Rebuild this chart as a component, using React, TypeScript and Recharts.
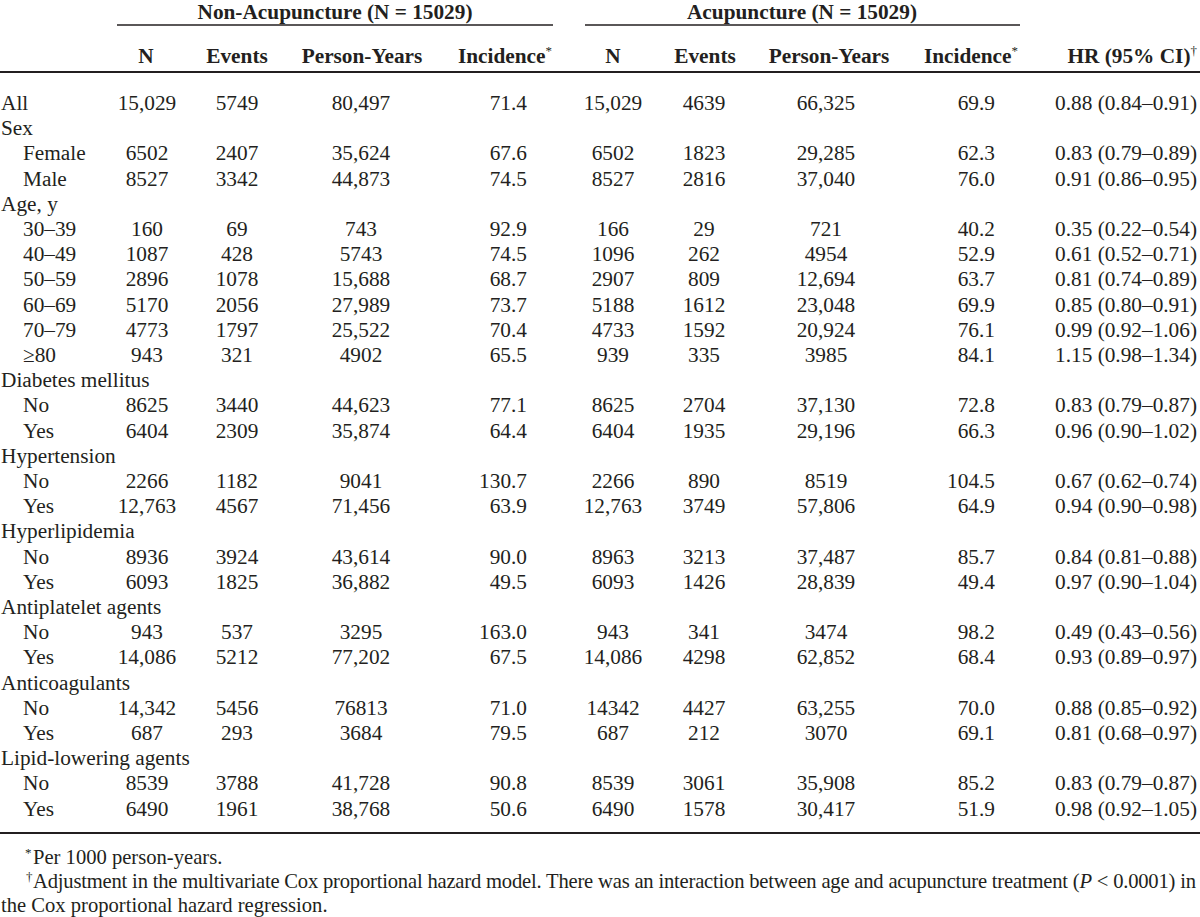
import React from 'react';
import { ScatterChart, Scatter, XAxis, YAxis, ReferenceLine } from 'recharts';

// row labels, 1 = indented sub-row
const rowLabels = [
  'All', 'Sex', 'Female', 'Male', 'Age, y', '30–39', '40–49', '50–59', '60–69', '70–79', '≥80',
  'Diabetes mellitus', 'No', 'Yes', 'Hypertension', 'No', 'Yes', 'Hyperlipidemia', 'No', 'Yes',
  'Antiplatelet agents', 'No', 'Yes', 'Anticoagulants', 'No', 'Yes', 'Lipid-lowering agents', 'No', 'Yes',
];
const rowIndent = [0, 0, 1, 1, 0, 1, 1, 1, 1, 1, 1, 0, 1, 1, 0, 1, 1, 0, 1, 1, 0, 1, 1, 0, 1, 1, 0, 1, 1];

const nonN = ['15,029', '', '6502', '8527', '', '160', '1087', '2896', '5170', '4773', '943', '', '8625', '6404', '', '2266', '12,763', '', '8936', '6093', '', '943', '14,086', '', '14,342', '687', '', '8539', '6490'];
const nonEvents = ['5749', '', '2407', '3342', '', '69', '428', '1078', '2056', '1797', '321', '', '3440', '2309', '', '1182', '4567', '', '3924', '1825', '', '537', '5212', '', '5456', '293', '', '3788', '1961'];
const nonPersonYears = ['80,497', '', '35,624', '44,873', '', '743', '5743', '15,688', '27,989', '25,522', '4902', '', '44,623', '35,874', '', '9041', '71,456', '', '43,614', '36,882', '', '3295', '77,202', '', '76813', '3684', '', '41,728', '38,768'];
const nonIncidence = ['71.4', '', '67.6', '74.5', '', '92.9', '74.5', '68.7', '73.7', '70.4', '65.5', '', '77.1', '64.4', '', '130.7', '63.9', '', '90.0', '49.5', '', '163.0', '67.5', '', '71.0', '79.5', '', '90.8', '50.6'];

const acuN = ['15,029', '', '6502', '8527', '', '166', '1096', '2907', '5188', '4733', '939', '', '8625', '6404', '', '2266', '12,763', '', '8963', '6093', '', '943', '14,086', '', '14342', '687', '', '8539', '6490'];
const acuEvents = ['4639', '', '1823', '2816', '', '29', '262', '809', '1612', '1592', '335', '', '2704', '1935', '', '890', '3749', '', '3213', '1426', '', '341', '4298', '', '4427', '212', '', '3061', '1578'];
const acuPersonYears = ['66,325', '', '29,285', '37,040', '', '721', '4954', '12,694', '23,048', '20,924', '3985', '', '37,130', '29,196', '', '8519', '57,806', '', '37,487', '28,839', '', '3474', '62,852', '', '63,255', '3070', '', '35,908', '30,417'];
const acuIncidence = ['69.9', '', '62.3', '76.0', '', '40.2', '52.9', '63.7', '69.9', '76.1', '84.1', '', '72.8', '66.3', '', '104.5', '64.9', '', '85.7', '49.4', '', '98.2', '68.4', '', '70.0', '69.1', '', '85.2', '51.9'];

const hazardRatio = ['0.88 (0.84–0.91)', '', '0.83 (0.79–0.89)', '0.91 (0.86–0.95)', '', '0.35 (0.22–0.54)', '0.61 (0.52–0.71)', '0.81 (0.74–0.89)', '0.85 (0.80–0.91)', '0.99 (0.92–1.06)', '1.15 (0.98–1.34)', '', '0.83 (0.79–0.87)', '0.96 (0.90–1.02)', '', '0.67 (0.62–0.74)', '0.94 (0.90–0.98)', '', '0.84 (0.81–0.88)', '0.97 (0.90–1.04)', '', '0.49 (0.43–0.56)', '0.93 (0.89–0.97)', '', '0.88 (0.85–0.92)', '0.81 (0.68–0.97)', '', '0.83 (0.79–0.87)', '0.98 (0.92–1.05)'];

const groupTitles = ['Non-Acupuncture (N = 15029)', 'Acupuncture (N = 15029)'];
const columnTitles = ['N', 'Events', 'Person-Years', 'Incidence'];
const hrTitle = 'HR (95% CI)';

const footnoteMarks = ['*', '†'];
const footnoteLines = [
  'Per 1000 person-years.',
  'Adjustment in the multivariate Cox proportional hazard model. There was an interaction between age and acupuncture treatment (|P| < 0.0001) in',
  'the Cox proportional hazard regression.',
];

// layout
const W = 1200;
const H = 917;
const FONT = '"Liberation Serif", "Times New Roman", serif';
const INK = '#231f20';
const FS = 21.3;
const ROW0 = 110;
const STEP = 25.2;

type Anchor = 'start' | 'middle' | 'end';
type Cell = {
  x: number; y: number; text: string; anchor: Anchor;
  bold?: boolean; sup?: string; size?: number; fit?: number;
};

const valueCols: { values: string[]; x: number; anchor: Anchor }[] = [
  { values: nonN, x: 147, anchor: 'middle' },
  { values: nonEvents, x: 237, anchor: 'middle' },
  { values: nonPersonYears, x: 361, anchor: 'middle' },
  { values: nonIncidence, x: 527, anchor: 'end' },
  { values: acuN, x: 613, anchor: 'middle' },
  { values: acuEvents, x: 704, anchor: 'middle' },
  { values: acuPersonYears, x: 826, anchor: 'middle' },
  { values: acuIncidence, x: 995, anchor: 'end' },
  { values: hazardRatio, x: 1197, anchor: 'end' },
];

const headerX = [
  [146, 237, 362, 552],
  [613, 705, 829, 1018],
];

const bodyCells: Cell[] = [
  ...rowLabels.map((t, i) => ({ x: rowIndent[i] ? 23 : 1, y: ROW0 + i * STEP, text: t, anchor: 'start' as Anchor })),
  ...valueCols.flatMap((c) =>
    c.values
      .map((v, i) => ({ x: c.x, y: ROW0 + i * STEP, text: v, anchor: c.anchor }))
      .filter((d) => d.text !== '')
  ),
];

const headerCells: Cell[] = [
  { x: 335, y: 19, text: groupTitles[0], anchor: 'middle', bold: true },
  { x: 802, y: 19, text: groupTitles[1], anchor: 'middle', bold: true },
  ...headerX.flatMap((xs) =>
    columnTitles.map((t, j) => ({
      x: xs[j],
      y: 63,
      text: t,
      anchor: (j === 3 ? 'end' : 'middle') as Anchor,
      bold: true,
      sup: j === 3 ? '*' : undefined,
    }))
  ),
  { x: 1197, y: 63, text: hrTitle, anchor: 'end', bold: true, sup: '†' },
];

const noteCells: Cell[] = [
  { x: 25, y: 857, text: footnoteMarks[0], anchor: 'start', size: 13 },
  { x: 33, y: 864, text: footnoteLines[0], anchor: 'start', size: 20.6 },
  { x: 26, y: 881, text: footnoteMarks[1], anchor: 'start', size: 13 },
  { x: 33, y: 888, text: footnoteLines[1], anchor: 'start', size: 20.6, fit: 1163 },
  { x: 1, y: 912, text: footnoteLines[2], anchor: 'start', size: 20.6 },
];

const TextShape = (props: any) => {
  const { cx, cy, payload } = props;
  const c = payload as Cell;
  // segments wrapped in |..| are italic
  const parts = c.text.split('|');
  return (
    <text
      x={cx}
      y={cy}
      textAnchor={c.anchor}
      fontFamily={FONT}
      fontSize={c.size ?? FS}
      fontWeight={c.bold ? 700 : 400}
      fill={INK}
      textLength={c.fit}
      lengthAdjust={c.fit ? 'spacing' : undefined}
    >
      {parts.map((p, k) => (
        <tspan key={k} fontStyle={k % 2 ? 'italic' : 'normal'}>{p}</tspan>
      ))}
      {c.sup && (
        <tspan dy={-8} fontSize={13} fontWeight={400}>{c.sup}</tspan>
      )}
    </text>
  );
};

const rules = [
  { x1: 117, x2: 553, y: 25, w: 1.3 },
  { x1: 585, x2: 1020, y: 25, w: 1.3 },
  { x1: 0, x2: W, y: 72, w: 2 },
  { x1: 0, x2: W, y: 833, w: 2 },
];

const App: React.FC = () => (
  <div style={{ position: 'absolute', left: 0, top: 0, width: W, height: H, background: '#fff' }}>
    <ScatterChart width={W} height={H} margin={{ top: 0, right: 0, bottom: 0, left: 0 }}>
      <XAxis type="number" dataKey="x" domain={[0, W]} allowDataOverflow hide />
      <YAxis type="number" dataKey="y" domain={[0, H]} allowDataOverflow reversed hide />
      {rules.map((r, i) => (
        <ReferenceLine
          key={i}
          segment={[{ x: r.x1, y: r.y }, { x: r.x2, y: r.y }]}
          stroke={INK}
          strokeWidth={r.w}
          ifOverflow="visible"
        />
      ))}
      <Scatter data={headerCells} shape={TextShape} isAnimationActive={false} />
      <Scatter data={bodyCells} shape={TextShape} isAnimationActive={false} />
      <Scatter data={noteCells} shape={TextShape} isAnimationActive={false} />
    </ScatterChart>
  </div>
);

export default App;
